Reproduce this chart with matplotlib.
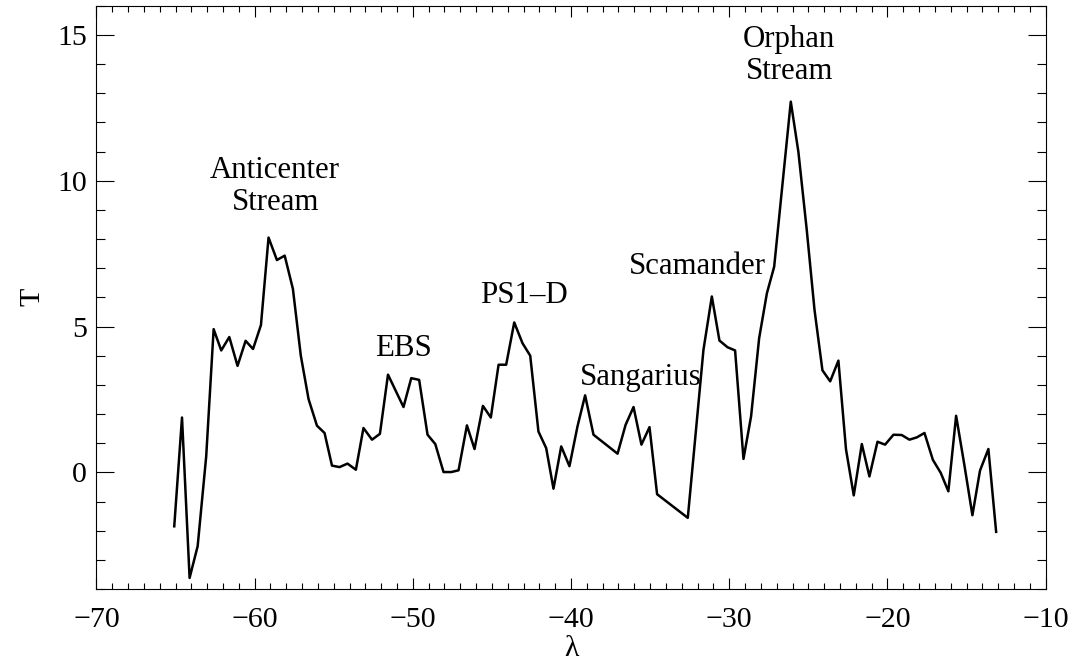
import matplotlib

matplotlib.use("Agg")
import matplotlib.pyplot as plt
from matplotlib.ticker import MultipleLocator

plt.rcParams["font.family"] = ["Liberation Serif", "DejaVu Serif"]
plt.rcParams["axes.unicode_minus"] = True

# stream detection statistic T along lambda
lam = [
    -65.08, -64.59, -64.11, -63.60, -63.06, -62.59, -62.11, -61.60, -61.08, -60.57,
    -60.10, -59.60, -59.12, -58.59, -58.10, -57.58, -57.08, -56.59, -56.06, -55.58,
    -55.11, -54.63, -54.13, -53.60, -53.12, -52.58, -52.08, -51.57, -50.59, -50.10,
    -49.60, -49.07, -48.58, -48.06, -47.57, -47.11, -46.58, -46.10, -45.57, -45.07,
    -44.58, -44.10, -43.59, -43.07, -42.58, -42.06, -41.57, -41.11, -40.62, -40.10,
    -39.59, -39.11, -38.58, -37.06, -36.55, -36.05, -35.55, -35.04, -34.56, -32.62,
    -31.63, -31.10, -30.62, -30.11, -29.63, -29.10, -28.62, -28.11, -27.62, -27.16,
    -26.11, -25.63, -25.10, -24.61, -24.11, -23.62, -23.10, -22.62, -22.13, -21.62,
    -21.14, -20.63, -20.15, -19.62, -19.10, -18.61, -18.14, -17.66, -17.13, -16.63,
    -16.15, -15.66, -15.14, -14.63, -14.15, -13.62, -13.13,
]
T = [
    -1.85, 1.88, -3.62, -2.53, 0.55, 4.91, 4.18, 4.64, 3.65, 4.51,
    4.23, 5.05, 8.05, 7.28, 7.43, 6.29, 4.00, 2.51, 1.60, 1.35,
    0.23, 0.18, 0.30, 0.09, 1.52, 1.12, 1.32, 3.35, 2.24, 3.23,
    3.17, 1.29, 0.97, 0.01, 0.01, 0.07, 1.61, 0.80, 2.28, 1.88,
    3.69, 3.69, 5.14, 4.43, 4.00, 1.40, 0.83, -0.56, 0.89, 0.21,
    1.58, 2.64, 1.29, 0.64, 1.63, 2.24, 0.95, 1.55, -0.75, -1.56,
    4.20, 6.03, 4.52, 4.29, 4.18, 0.46, 1.92, 4.60, 6.14, 7.05,
    12.71, 10.99, 8.31, 5.57, 3.50, 3.12, 3.83, 0.79, -0.79, 0.97,
    -0.14, 1.05, 0.95, 1.29, 1.28, 1.12, 1.20, 1.35, 0.43, -0.02,
    -0.65, 1.94, 0.26, -1.47, 0.06, 0.80, -2.04,
]

# stream names and where they are written (last-line baseline, centred)
stream_names = ["Anticenter\nStream", "EBS", "PS1\u2013D", "Sangarius", "Scamander", "Orphan\nStream"]
name_lam = [-58.7, -50.6, -43.0, -35.6, -32.0, -26.2]
name_T = [9.0, 4.0, 5.8, 3.0, 6.8, 13.5]

fig = plt.figure(figsize=(10.76, 6.63), dpi=100)
ax = fig.add_axes([0.0896, 0.1116, 0.8822, 0.8798])

ax.plot(lam, T, color="black", linewidth=1.8)

for name, x, y in zip(stream_names, name_lam, name_T):
    ax.text(x, y, name, ha="center", va="baseline", fontsize=22.2, linespacing=1.12)

ax.set_xlim(-70, -10)
ax.set_ylim(-4, 16)
ax.xaxis.set_major_locator(MultipleLocator(10))
ax.xaxis.set_minor_locator(MultipleLocator(1))
ax.yaxis.set_major_locator(MultipleLocator(5))
ax.yaxis.set_minor_locator(MultipleLocator(1))

ax.tick_params(axis="both", which="both", direction="in", top=True, right=True,
               width=0.8, labelsize=21.5)
ax.tick_params(axis="x", which="major", length=8, pad=13)
ax.tick_params(axis="x", which="minor", length=4)
ax.tick_params(axis="y", which="major", length=13, pad=7)
ax.tick_params(axis="y", which="minor", length=6.5)
for sp in ax.spines.values():
    sp.set_linewidth(0.8)

ax.set_xlabel("\u03bb", fontsize=21.5, labelpad=2)
ax.set_ylabel("T", fontsize=21.5, labelpad=8)

fig.savefig("out.png", dpi=100)
